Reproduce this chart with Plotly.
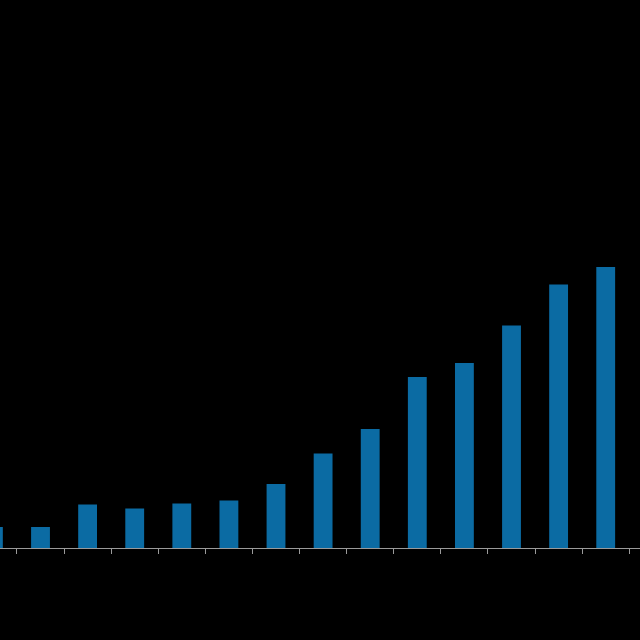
import plotly.graph_objects as go

# Data (units arbitrary)
categories = list(range(14))
values = [21, 21, 43.5, 39.5, 44.5, 47.5, 64, 94.5, 119, 171, 185, 222.5, 263.5, 281]
tick_positions = [i + 0.5 for i in range(14)]

fig = go.Figure(
    go.Bar(
        x=categories,
        y=values,
        width=0.40,
        marker=dict(color="#0b6ba3", line=dict(width=0)),
        hoverinfo="skip",
    )
)

fig.update_layout(
    width=640,
    height=640,
    paper_bgcolor="#000000",
    plot_bgcolor="#000000",
    margin=dict(l=0, r=0, t=0, b=92),
    showlegend=False,
    xaxis=dict(
        range=[0.14, 13.728],
        tickmode="array",
        tickvals=tick_positions,
        showticklabels=False,
        ticks="outside",
        ticklen=5,
        tickcolor="#9a9a9a",
        tickwidth=1,
        showline=True,
        linecolor="#9a9a9a",
        linewidth=1,
        showgrid=False,
        zeroline=False,
    ),
    yaxis=dict(
        range=[0, 548],
        visible=False,
        showgrid=False,
        zeroline=False,
    ),
)

fig.write_html(
    "out.html",
    config={"displayModeBar": False},
    post_script="document.body.style.margin='0';document.body.style.background='#000';",
)
